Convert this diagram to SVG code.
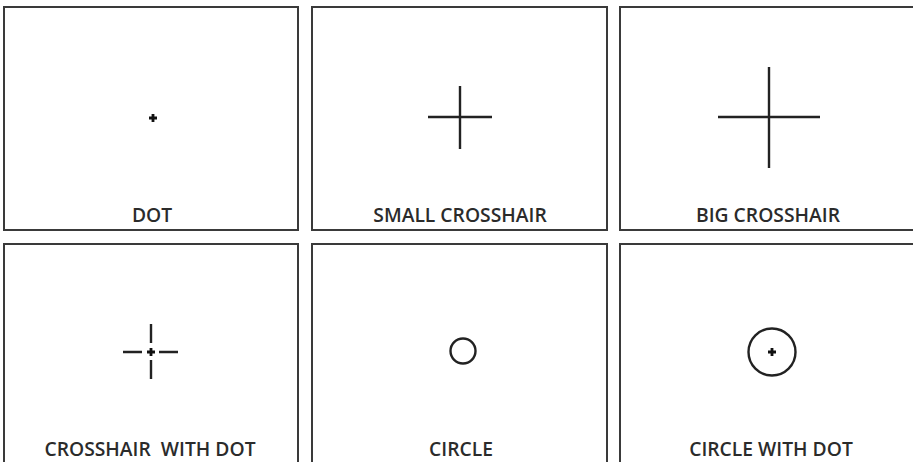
<svg xmlns="http://www.w3.org/2000/svg" width="913" height="462" viewBox="0 0 913 462">
<style>
.panel{fill:#fff;stroke:#3a3a3a;stroke-width:2}
.mark{stroke:#222;stroke-width:2.4;fill:none}
.dot{stroke:#111;stroke-width:2.8;fill:none}
.lbl{font-family:"Open Sans","Liberation Sans",sans-serif;font-weight:600;font-size:19.3px;fill:#2b2b2b;text-anchor:middle;white-space:pre}
</style>
<defs>
<path id="plus" d="M-4 0H4M0 -4V4" class="dot"/>
</defs>
<rect width="913" height="462" fill="#fff"/>
<g id="dot">
<rect class="panel" x="4" y="7" width="294" height="223"/>
<use href="#plus" x="153" y="118"/>
<text class="lbl" x="152" y="222">DOT</text>
</g>
<g id="small-crosshair">
<rect class="panel" x="312" y="7" width="295" height="223"/>
<path class="mark" d="M428 117H492M460 86V149"/>
<text class="lbl" x="460" y="222">SMALL CROSSHAIR</text>
</g>
<g id="big-crosshair">
<rect class="panel" x="620" y="7" width="305" height="223"/>
<path class="mark" d="M718 117H820M769 67V168"/>
<text class="lbl" x="768" y="222">BIG CROSSHAIR</text>
</g>
<g id="crosshair-with-dot">
<rect class="panel" x="4" y="244" width="294" height="230"/>
<path class="mark" d="M123 352H142M159 352H178M151 324V343M151 360V379"/>
<use href="#plus" x="151" y="352"/>
<text class="lbl" x="150" y="456" xml:space="preserve">CROSSHAIR  WITH DOT</text>
</g>
<g id="circle">
<rect class="panel" x="312" y="244" width="295" height="230"/>
<circle class="mark" cx="463" cy="351" r="12.5"/>
<text class="lbl" x="461" y="456">CIRCLE</text>
</g>
<g id="circle-with-dot">
<rect class="panel" x="620" y="244" width="305" height="230"/>
<circle class="mark" cx="772" cy="352" r="23.5"/>
<use href="#plus" x="772" y="352"/>
<text class="lbl" x="771" y="456">CIRCLE WITH DOT</text>
</g>
<g id="connectors"/>
</svg>
